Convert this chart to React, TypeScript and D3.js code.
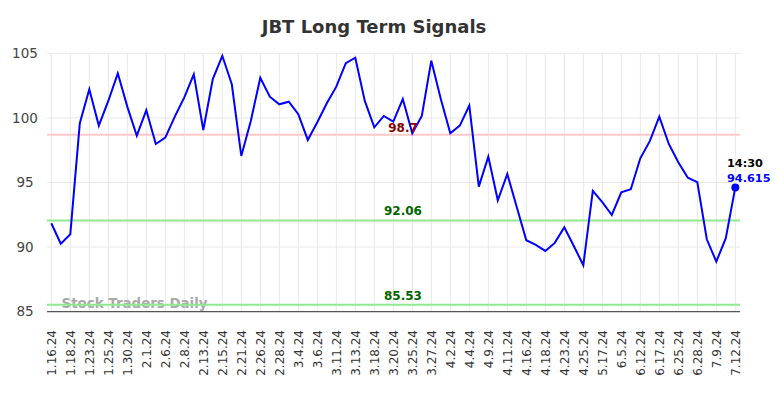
import React from "react";
import * as d3 from "d3";

const tickLabels = [
  "1.16.24", "1.18.24", "1.23.24", "1.25.24", "1.30.24", "2.1.24", "2.6.24", "2.8.24",
  "2.13.24", "2.15.24", "2.21.24", "2.26.24", "2.28.24", "3.4.24", "3.6.24", "3.11.24",
  "3.13.24", "3.18.24", "3.20.24", "3.25.24", "3.27.24", "4.2.24", "4.4.24", "4.9.24",
  "4.11.24", "4.16.24", "4.18.24", "4.23.24", "4.25.24", "5.17.24", "6.5.24", "6.12.24",
  "6.17.24", "6.25.24", "6.28.24", "7.9.24", "7.12.24",
];

const values = [
  91.84, 90.26, 90.99, 99.58, 102.21, 99.4, 101.31, 103.45, 100.87, 98.62,
  100.59, 97.98, 98.47, 100.1, 101.59, 103.37, 99.06, 103.01, 104.81, 102.6,
  97.05, 99.76, 103.11, 101.64, 101.05, 101.25, 100.28, 98.29, 99.66, 101.13,
  102.42, 104.23, 104.66, 101.31, 99.27, 100.15, 99.71, 101.46, 98.81, 100.15,
  104.43, 101.46, 98.81, 99.4, 100.95, 94.68, 97.0, 93.62, 95.66, 93.08,
  90.53, 90.16, 89.7, 90.32, 91.53, 90.08, 88.59, 94.34, 93.47, 92.48,
  94.24, 94.47, 96.87, 98.2, 100.1, 97.98, 96.56, 95.37, 95.02, 90.6,
  88.87, 90.68, 94.615,
];

const yTicks = [85, 90, 95, 100, 105];
const redLevel = 98.7;
const greenLevels = [92.06, 85.53];
const title = "JBT Long Term Signals";
const lastTime = "14:30";

export default function App() {
  const W = 784;
  const H = 398;
  const plotLeft = 47;
  const plotRight = 740;
  const x = d3.scaleLinear().domain([0, values.length - 1]).range([51.3, 735.3]);
  const y = d3.scaleLinear().domain([85, 105]).range([311.6, 53.3]);
  const line = d3
    .line<number>()
    .x((_, i) => x(i))
    .y((d) => y(d));
  const lastIdx = values.length - 1;
  const labelX = 403;

  return (
    <svg
      width={W}
      height={H}
      style={{ position: "absolute", left: 0, top: 0, display: "block" }}
      fontFamily="DejaVu Sans, sans-serif"
    >
      <rect width={W} height={H} fill="#fff" />
      {tickLabels.map((_, k) => (
        <line
          key={"vg" + k}
          x1={x(k * 2)}
          x2={x(k * 2)}
          y1={y(105)}
          y2={y(85)}
          stroke="#e8e8e8"
          strokeWidth={1}
        />
      ))}
      {yTicks.map((t) => (
        <line
          key={"hg" + t}
          x1={plotLeft}
          x2={plotRight}
          y1={y(t)}
          y2={y(t)}
          stroke="#e8e8e8"
          strokeWidth={1}
        />
      ))}
      {yTicks.map((t) => (
        <text
          key={"yl" + t}
          x={25}
          y={y(t)}
          dy="0.35em"
          textAnchor="middle"
          fontSize={13.5}
          fill="#444"
        >
          {t}
        </text>
      ))}
      {tickLabels.map((lab, k) => (
        <text
          key={"xl" + k}
          transform={`translate(${x(k * 2)},330) rotate(-90)`}
          dy="0.35em"
          textAnchor="end"
          fontSize={12}
          fill="#333"
        >
          {lab}
        </text>
      ))}
      <text x={61.5} y={308} fontSize={13.4} fontWeight="bold" fill="#aaa">
        Stock Traders Daily
      </text>
      <line x1={plotLeft} x2={plotRight} y1={y(redLevel)} y2={y(redLevel)} stroke="#ffc8c8" strokeWidth={2} />
      {greenLevels.map((g) => (
        <line key={"gl" + g} x1={plotLeft} x2={plotRight} y1={y(g)} y2={y(g)} stroke="#90e890" strokeWidth={2} />
      ))}
      <line x1={plotLeft} x2={plotRight} y1={311.6} y2={311.6} stroke="#555" strokeWidth={1.2} />
      <path d={line(values) || ""} fill="none" stroke="#0000ff" strokeWidth={2} />
      <text x={labelX} y={y(redLevel) - 3} textAnchor="middle" fontSize={12} fontWeight="bold" fill="#8b0000">
        {redLevel}
      </text>
      {greenLevels.map((g) => (
        <text key={"glt" + g} x={labelX} y={y(g) - 5} textAnchor="middle" fontSize={12} fontWeight="bold" fill="#006400">
          {g.toFixed(2)}
        </text>
      ))}
      <circle cx={x(lastIdx)} cy={y(values[lastIdx])} r={4} fill="#0000ff" />
      <text x={727} y={167} fontSize={11.3} fontWeight="bold" fill="#000">
        {lastTime}
      </text>
      <text x={727} y={181.5} fontSize={11.3} fontWeight="bold" fill="#0000ff">
        {values[lastIdx]}
      </text>
      <text x={374} y={33} textAnchor="middle" fontSize={18} fontWeight="bold" fill="#333">
        {title}
      </text>
    </svg>
  );
}
